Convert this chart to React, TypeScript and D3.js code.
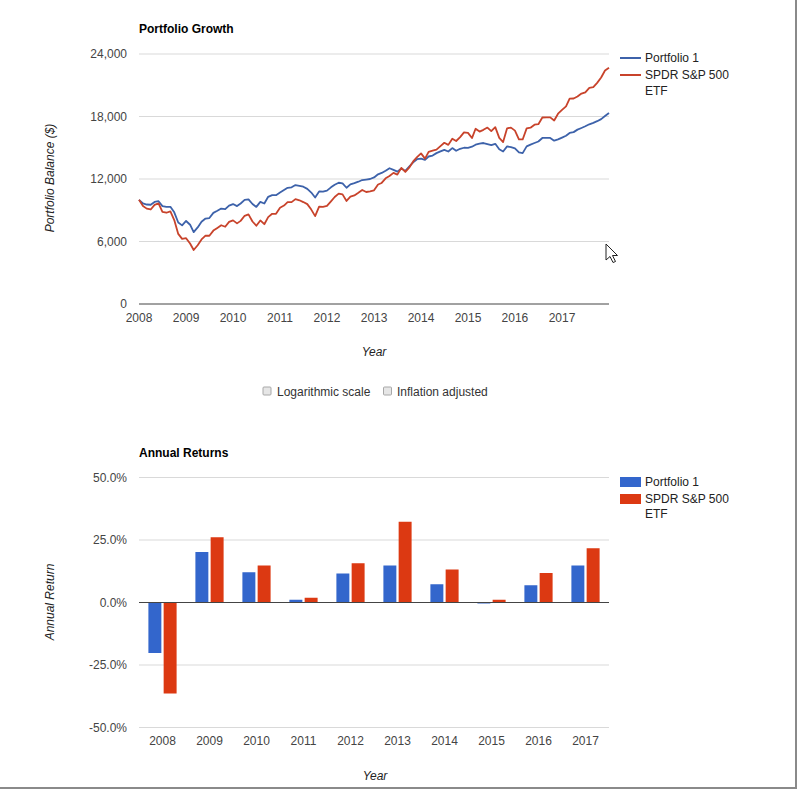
import React from 'react';
import * as d3 from 'd3';

const years = ['2008', '2009', '2010', '2011', '2012', '2013', '2014', '2015', '2016', '2017'];
const seriesNames = ['Portfolio 1', 'SPDR S&P 500 ETF'];

const portfolioReturns = [-20.2, 20.2, 12.1, 1.1, 11.6, 14.8, 7.3, -0.4, 6.9, 14.8];
const spyReturns = [-36.4, 26.1, 14.8, 1.9, 15.7, 32.3, 13.2, 1.1, 11.8, 21.7];

// monthly balances, Jan 2008 .. Jan 2018 (121 points)
const portfolioBalance = [10000,
  9650, 9550, 9530, 9800, 9870, 9400, 9330, 9330, 8800, 7820, 7550, 7970,
  7610, 6900, 7350, 7900, 8200, 8250, 8750, 8950, 9160, 9100, 9450, 9596,
  9400, 9650, 10000, 10050, 9600, 9320, 9800, 9650, 10290, 10450, 10450, 10700,
  10935, 11150, 11200, 11420, 11350, 11260, 11050, 10700, 10230, 10800, 10780, 10886,
  11200, 11450, 11640, 11580, 11160, 11480, 11600, 11740, 11900, 11950, 12000, 12148,
  12450, 12580, 12800, 13035, 12870, 12710, 13000, 12775, 13200, 13600, 13900, 13958,
  13840, 14160, 14250, 14485, 14650, 14800, 14640, 14970, 14710, 14900, 15000, 14991,
  15100, 15290, 15400, 15455, 15355, 15250, 15380, 14850, 14640, 15130, 15050, 14931,
  14550, 14485, 15130, 15300, 15455, 15600, 15940, 15950, 15940, 15680, 15800, 15976,
  16150, 16420, 16500, 16740, 16900, 17060, 17250, 17390, 17550, 17750, 18050, 18341];

const spyBalance = [10000,
  9400, 9156, 9074, 9509, 9652, 8841, 8761, 8893, 8057, 6728, 6257, 6320,
  5802, 5181, 5637, 6195, 6561, 6554, 7046, 7306, 7562, 7418, 7878, 8028,
  7739, 7979, 8466, 8601, 7922, 7510, 8021, 7660, 8342, 8659, 8659, 9239,
  9451, 9782, 9782, 10066, 9955, 9786, 9590, 9063, 8438, 9357, 9320, 9413,
  9846, 10269, 10598, 10524, 9893, 10298, 10422, 10682, 10949, 10752, 10817, 10914,
  11471, 11620, 12062, 12291, 12586, 12422, 13068, 12676, 13082, 13684, 14094, 14461,
  13955, 14597, 14714, 14817, 15158, 15476, 15275, 15871, 15649, 16024, 16473, 16424,
  15931, 16823, 16554, 16720, 16937, 16598, 16980, 15944, 15546, 16867, 16934, 16646,
  15814, 15798, 16856, 16924, 17212, 17264, 17902, 17920, 17920, 17615, 18267, 18632,
  18967, 19707, 19727, 19924, 20203, 20324, 20751, 20813, 21229, 21739, 22413, 22682];

const balanceTicks = [0, 6000, 12000, 18000, 24000];
const returnTicks = [-50, -25, 0, 25, 50];

const lineColors = ['#3d62aa', '#c8432b'];
const barColors = ['#3366cc', '#dc3912'];
const FONT = 'Arial, "Liberation Sans", sans-serif';

export default function App() {
  const left = 139;
  const right = 609;

  // ---- top chart scales
  const xTime = d3.scaleTime().domain([new Date(2008, 0, 1), new Date(2018, 0, 1)]).range([left, right]);
  const yBal = d3.scaleLinear().domain([0, 24000]).range([304, 54]);
  const dateAt = (i: number) => new Date(2008, i, 1);
  const line = d3.line<number>().x((_, i) => xTime(dateAt(i))).y((v) => yBal(v));
  const fmtBal = d3.format(',');

  // ---- bottom chart scales
  const xBand = d3.scaleBand<string>().domain(years).range([left, right]).paddingInner(0.4).paddingOuter(0.2);
  const xInner = d3.scaleBand<number>().domain([0, 1]).range([0, xBand.bandwidth()]).paddingInner(0.15);
  const yRet = d3.scaleLinear().domain([-50, 50]).range([727.5, 477.5]);
  const fmtRet = (v: number) => v.toFixed(1) + '%';
  const returnsSeries = [portfolioReturns, spyReturns];

  const cursor = 'M0,0 L0,16 L4,12.5 L7,18.5 L9.5,17.5 L6.5,11.5 L11.5,11.5 Z';

  return (
    <svg width={800} height={794} style={{ position: 'absolute', left: 0, top: 0, background: '#fff' }} fontFamily={FONT}>
      <rect x={0} y={0} width={800} height={794} fill="#fff" />

      {/* ================= Portfolio Growth ================= */}
      <text x={139} y={33} fontSize={12} fontWeight="bold" fill="#000">Portfolio Growth</text>

      {balanceTicks.map((t) => (
        <g key={'bt' + t}>
          {t !== 0 && <line x1={left} x2={right} y1={yBal(t)} y2={yBal(t)} stroke="#d9d9d9" strokeWidth={1} />}
          <text x={127} y={yBal(t) + 4} fontSize={12} fill="#444" textAnchor="end">{fmtBal(t)}</text>
        </g>
      ))}
      <line x1={left} x2={right} y1={yBal(0)} y2={yBal(0)} stroke="#444" strokeWidth={1} />

      {years.map((y) => (
        <text key={'xl' + y} x={xTime(new Date(+y, 0, 1))} y={322} fontSize={12} fill="#444" textAnchor="middle">{y}</text>
      ))}

      <path d={line(portfolioBalance) || ''} fill="none" stroke={lineColors[0]} strokeWidth={1.8} strokeLinejoin="round" />
      <path d={line(spyBalance) || ''} fill="none" stroke={lineColors[1]} strokeWidth={1.8} strokeLinejoin="round" />

      <text x={0} y={0} fontSize={12} fontStyle="italic" fill="#222" textAnchor="middle" transform="translate(54,178) rotate(-90)">Portfolio Balance ($)</text>
      <text x={374} y={356} fontSize={12} fontStyle="italic" fill="#222" textAnchor="middle">Year</text>

      {/* legend */}
      <line x1={620} x2={641} y1={58} y2={58} stroke={lineColors[0]} strokeWidth={2} />
      <text x={645} y={62} fontSize={12} fill="#222">{seriesNames[0]}</text>
      <line x1={620} x2={641} y1={75} y2={75} stroke={lineColors[1]} strokeWidth={2} />
      <text x={645} y={79} fontSize={12} fill="#222">SPDR S&amp;P 500</text>
      <text x={645} y={95} fontSize={12} fill="#222">ETF</text>

      {/* checkboxes */}
      <rect x={263} y={387} width={8} height={8} fill="#e6e6e6" stroke="#a8a8a8" strokeWidth={1} rx={1} />
      <text x={277} y={396} fontSize={12} fill="#333">Logarithmic scale</text>
      <rect x={383.5} y={387} width={8} height={8} fill="#e6e6e6" stroke="#a8a8a8" strokeWidth={1} rx={1} />
      <text x={397} y={396} fontSize={12} fill="#333">Inflation adjusted</text>

      {/* cursor */}
      <path d={cursor} transform="translate(606,244)" fill="#fff" stroke="#222" strokeWidth={1} strokeLinejoin="miter" />

      {/* ================= Annual Returns ================= */}
      <text x={139} y={457} fontSize={12} fontWeight="bold" fill="#000">Annual Returns</text>

      {returnTicks.map((t) => (
        <g key={'rt' + t}>
          {t !== 0 && <line x1={left} x2={right} y1={yRet(t)} y2={yRet(t)} stroke="#d9d9d9" strokeWidth={1} />}
          <text x={127} y={yRet(t) + 4} fontSize={12} fill="#444" textAnchor="end">{fmtRet(t)}</text>
        </g>
      ))}

      {years.map((y, i) => (
        <g key={'bar' + y}>
          {returnsSeries.map((s, k) => {
            const v = s[i];
            const y0 = yRet(0);
            const y1 = yRet(v);
            return (
              <rect key={k} x={(xBand(y) || 0) + (xInner(k) || 0)} width={xInner.bandwidth()}
                y={Math.min(y0, y1)} height={Math.max(0.8, Math.abs(y1 - y0))} fill={barColors[k]} />
            );
          })}
          <text x={(xBand(y) || 0) + xBand.bandwidth() / 2} y={745} fontSize={12} fill="#444" textAnchor="middle">{y}</text>
        </g>
      ))}
      <line x1={left} x2={right} y1={yRet(0)} y2={yRet(0)} stroke="#444" strokeWidth={1} />

      <text x={0} y={0} fontSize={12} fontStyle="italic" fill="#222" textAnchor="middle" transform="translate(54,602) rotate(-90)">Annual Return</text>
      <text x={375} y={780} fontSize={12} fontStyle="italic" fill="#222" textAnchor="middle">Year</text>

      {/* legend */}
      <rect x={620} y={477} width={21} height={10} fill={barColors[0]} />
      <text x={645} y={486} fontSize={12} fill="#222">{seriesNames[0]}</text>
      <rect x={620} y={494} width={21} height={10} fill={barColors[1]} />
      <text x={645} y={503} fontSize={12} fill="#222">SPDR S&amp;P 500</text>
      <text x={645} y={518} fontSize={12} fill="#222">ETF</text>

      {/* frame */}
      <line x1={796} x2={796} y1={0} y2={789} stroke="#8a8a8a" strokeWidth={2} />
      <line x1={0} x2={797} y1={788} y2={788} stroke="#8a8a8a" strokeWidth={2} />
    </svg>
  );
}
